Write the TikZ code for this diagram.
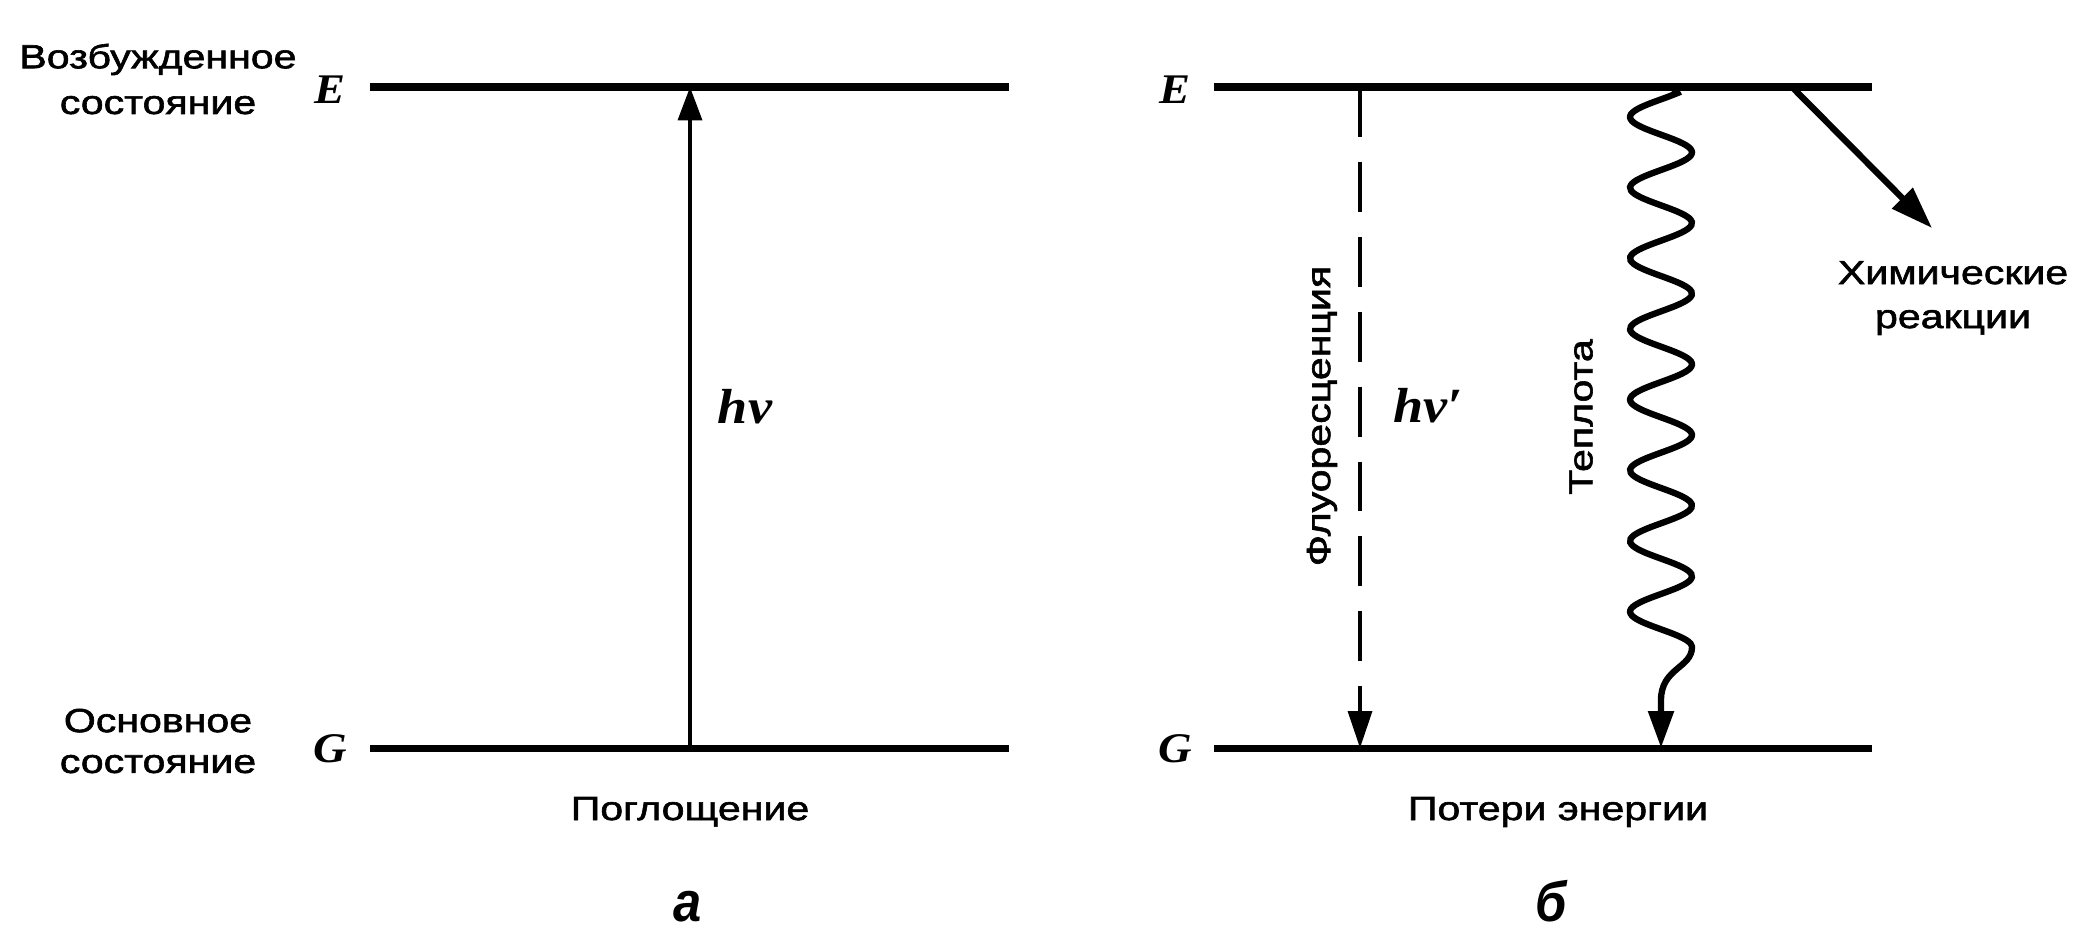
\documentclass[tikz,border=0pt]{standalone}
\usepackage{fontspec}
\setmainfont{Liberation Sans}
\newfontfamily\lblfont{Liberation Sans}[FakeStretch=1.23,FakeBold=1.8]
\newfontfamily\serfont{Liberation Serif}[FakeStretch=1.1]
\newfontfamily\pnlfont{Liberation Sans}[FakeStretch=0.9]
\usetikzlibrary{arrows.meta}
\begin{document}
\begin{tikzpicture}[x=0.01cm,y=-0.01cm,
  level/.style={line width=2pt},
  txt/.style={font=\lblfont\fontsize{9.5pt}{11.6pt}\selectfont, inner sep=0pt, align=center},
  sym/.style={font=\serfont\bfseries\itshape\fontsize{12pt}{14pt}\selectfont, inner sep=0pt, anchor=base},
  freq/.style={font=\serfont\bfseries\itshape\fontsize{14pt}{16pt}\selectfont, inner sep=0pt, anchor=base},
  panel/.style={font=\pnlfont\bfseries\itshape\fontsize{16pt}{18pt}\selectfont, inner sep=0pt, anchor=base},
  thinarrow/.style={line width=1.1pt, -{Triangle[length=9.5pt,width=6.8pt]}},
  dasharrow/.style={line width=1pt, dash pattern=on 14.2pt off 7.1pt, -{Triangle[length=10.5pt,width=6.8pt]}},
  heavyarrow/.style={line width=1.8pt, -{Triangle[length=12pt,width=8pt]}},
  wavearrow/.style={line width=1.8pt, -{Triangle[length=10.5pt,width=7pt]}},
]
\useasboundingbox (0,0) rectangle (2088,932);

% ---- panel a ----
\coordinate (E1a) at (370,87);  \coordinate (E1b) at (1009,87);
\coordinate (G1a) at (370,748); \coordinate (G1b) at (1009,748);
\draw[level] (E1a) -- (E1b);
\draw[level] (G1a) -- (G1b);
\node[sym] (E1) at (330,103) {E};
\node[sym] (G1) at (330,762) {G};
\node[txt, font=\lblfont\fontsize{9.5pt}{13pt}\selectfont] (exc) at (158,79) {Возбужденное\\состояние};
\node[txt] (gnd) at (158,741) {Основное\\состояние};
\coordinate (absFoot) at (690,748);
\coordinate (absHead) at (690,87);
\draw[thinarrow] (absFoot) -- (absHead);
\node[freq] (hv) at (745,423) {hν};
\node[txt, anchor=base] (absorb) at (690,820) {Поглощение};
\node[panel] (pa) at (688,921) {а};

% ---- panel b ----
\coordinate (E2a) at (1214,87);  \coordinate (E2b) at (1872,87);
\coordinate (G2a) at (1214,748); \coordinate (G2b) at (1872,748);
\draw[level] (E2a) -- (E2b);
\draw[level] (G2a) -- (G2b);
\node[sym] (E2) at (1175,103) {E};
\node[sym] (G2) at (1175,762) {G};
\coordinate (fluTop) at (1360,87);
\coordinate (fluBot) at (1360,748);
\draw[dasharrow] (fluTop) -- (fluBot);
\node[txt, rotate=90] (flu) at (1322,416) {Флуоресценция};
\node[freq] (hv2) at (1428,422) {hν′};
\coordinate (waveTop) at (1676,87);
\coordinate (waveEnd) at (1661,748);
\draw[wavearrow] (waveTop) .. controls (1672,89) and (1676,91) .. (1677,92)
    -- plot[smooth, variable=\t, domain=93:647, samples=160]
    ({1661-31*cos((\t-117)*5.0948)},{\t})
    .. controls (1692,668) and (1661,668) .. (1661,700) -- (waveEnd);
\node[txt, rotate=90] (heat) at (1581,417) {Теплота};
\coordinate (chemStart) at (1792,87);
\coordinate (chemTip) at (1932,228);
\draw[heavyarrow] (chemStart) -- (chemTip);
\node[txt, font=\lblfont\fontsize{9.5pt}{12.5pt}\selectfont] (chem) at (1953,298) {Химические\\реакции};
\node[txt, anchor=base] (loss) at (1558,820) {Потери энергии};
\node[panel] (pb) at (1551,921) {б};
\end{tikzpicture}
\end{document}
